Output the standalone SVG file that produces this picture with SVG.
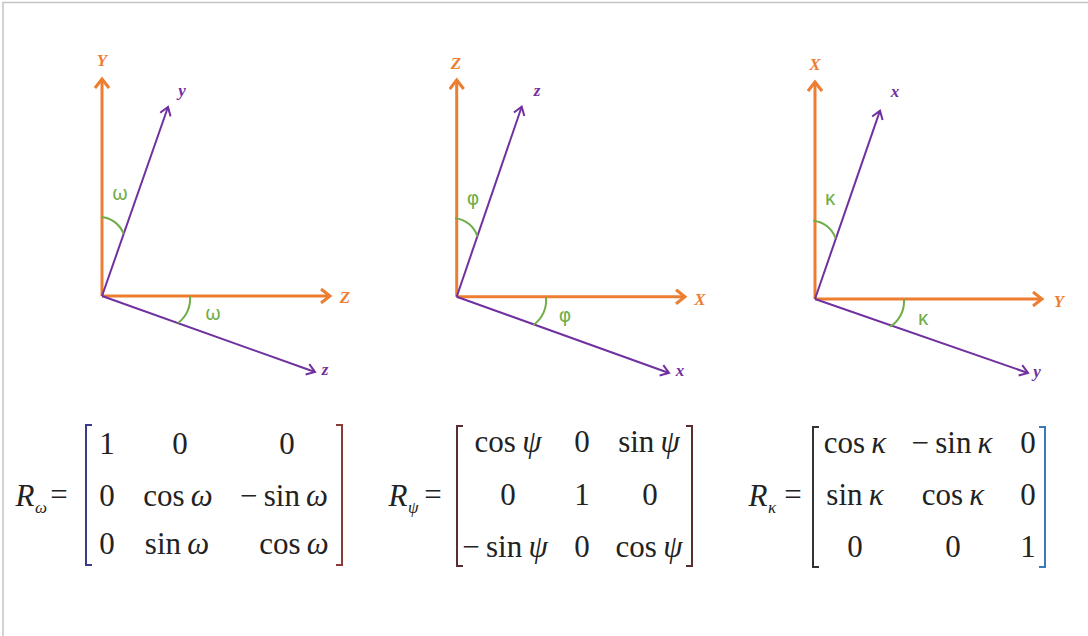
<svg xmlns="http://www.w3.org/2000/svg" width="1088" height="636" viewBox="0 0 1088 636">
<defs>
<style>
.ax{stroke:#ED7D31;stroke-width:3;fill:none;marker-end:url(#ao)}
.rot{stroke:#7030A0;stroke-width:2;fill:none;marker-end:url(#ap)}
.arc{stroke:#70AD47;stroke-width:2;fill:none}
.AL{font-family:"Liberation Serif",serif;font-style:italic;font-weight:bold;font-size:17px;fill:#ED7D31;text-anchor:middle}
.rl{font-family:"Liberation Serif",serif;font-style:italic;font-weight:bold;font-size:17px;fill:#7030A0;text-anchor:middle}
.gl{font-family:"Noto Sans",sans-serif;font-size:20px;fill:#70AD47;text-anchor:middle}
.gp{font-family:"DejaVu Sans",sans-serif;font-size:19px;fill:#70AD47;text-anchor:middle}
.m{font-family:"Liberation Serif",serif;font-size:31px;fill:#222;text-anchor:middle}
.m tspan.i{font-style:italic}
.sub{font-family:"Liberation Serif",serif;font-style:italic;font-size:17px;fill:#222}
.br{fill:none;stroke-width:2}
</style>
<marker id="ao" markerUnits="userSpaceOnUse" markerWidth="16" markerHeight="16" viewBox="0 0 16 16" refX="13" refY="8" orient="auto">
<path d="M4,1 L13,8 L4,15" fill="none" stroke="#ED7D31" stroke-width="3"/>
</marker>
<marker id="ap" markerUnits="userSpaceOnUse" markerWidth="14" markerHeight="14" viewBox="0 0 14 14" refX="12" refY="7" orient="auto">
<path d="M4,1.5 L12,7 L4,12.5" fill="none" stroke="#7030A0" stroke-width="2"/>
</marker>
</defs>
<rect width="1088" height="636" fill="#fff"/>
<path d="M3,636 L3,2.5 L1088,2.5" fill="none" stroke="#c4c4c4" stroke-width="1.5"/>

<g id="connectors">
<line class="ax" x1="102" y1="296" x2="102" y2="79"/>
<line class="ax" x1="102" y1="296" x2="330" y2="296"/>
<line class="rot" x1="102" y1="296" x2="168" y2="107"/>
<line class="rot" x1="102" y1="296" x2="315" y2="372"/>
<line class="ax" x1="456.7" y1="296.7" x2="456.7" y2="80"/>
<line class="ax" x1="456.7" y1="296.7" x2="685" y2="296.7"/>
<line class="rot" x1="456.7" y1="296.7" x2="521.7" y2="106.7"/>
<line class="rot" x1="456.7" y1="296.7" x2="669" y2="373"/>
<line class="ax" x1="815" y1="299" x2="815" y2="82"/>
<line class="ax" x1="815" y1="299" x2="1042" y2="299"/>
<line class="rot" x1="815" y1="299" x2="880" y2="110.7"/>
<line class="rot" x1="815" y1="299" x2="1028" y2="373"/>
<path class="arc" d="M101,217 A26,26 0 0 1 123.6,234"/>
<path class="arc" d="M190,296 A30,30 0 0 1 178,323"/>
<path class="arc" d="M455,218.3 A26,26 0 0 1 477.5,236.7"/>
<path class="arc" d="M546,297.3 A30,30 0 0 1 533.3,325"/>
<path class="arc" d="M813.3,220.7 A26,26 0 0 1 835.6,238.3"/>
<path class="arc" d="M904,299.3 A30,30 0 0 1 890,326.7"/>
</g>

<g id="frame-omega">
<text class="AL" x="102" y="66">Y</text>
<text class="AL" x="345" y="303">Z</text>
<text class="rl" x="182" y="96">y</text>
<text class="rl" x="325" y="375">z</text>
<text class="gl" x="120" y="200">ω</text>
<text class="gl" x="213" y="320">ω</text>
</g>
<g id="frame-phi">
<text class="AL" x="456" y="69">Z</text>
<text class="AL" x="700" y="305">X</text>
<text class="rl" x="537" y="96">z</text>
<text class="rl" x="680" y="376">x</text>
<text class="gp" x="473" y="205">φ</text>
<text class="gp" x="565" y="322">φ</text>
</g>
<g id="frame-kappa">
<text class="AL" x="815" y="70">X</text>
<text class="AL" x="1059" y="307">Y</text>
<text class="rl" x="895" y="97">x</text>
<text class="rl" x="1037" y="377">y</text>
<text class="gl" x="830" y="205">κ</text>
<text class="gl" x="923" y="325">κ</text>
</g>

<g id="matrix-omega">
<text class="m" x="25" y="506" font-style="italic">R</text>
<text class="sub" x="35" y="513">ω</text>
<text class="m" x="59" y="505">=</text>
<path class="br" stroke="#3a3a8a" d="M92,425 L86,425 L86,565 L92,565"/>
<path class="br" stroke="#8b3a3a" d="M336,425 L342,425 L342,565 L336,565"/>
<text class="m" x="107" y="454">1</text>
<text class="m" x="180" y="454">0</text>
<text class="m" x="287" y="454">0</text>
<text class="m" x="107" y="506">0</text>
<text class="m" x="178" y="506">cos&#8201;<tspan class="i">ω</tspan></text>
<text class="m" x="284" y="506">−&#8201;sin&#8201;<tspan class="i">ω</tspan></text>
<text class="m" x="107" y="554">0</text>
<text class="m" x="177" y="554">sin&#8201;<tspan class="i">ω</tspan></text>
<text class="m" x="294" y="554">cos&#8201;<tspan class="i">ω</tspan></text>
</g>

<g id="matrix-psi">
<text class="m" x="398" y="506" font-style="italic">R</text>
<text class="sub" x="408" y="513">ψ</text>
<text class="m" x="433" y="505">=</text>
<path class="br" stroke="#5a2e2e" d="M463,426 L457,426 L457,566 L463,566"/>
<path class="br" stroke="#5a2e2e" d="M686,426 L692,426 L692,566 L686,566"/>
<text class="m" x="508" y="452">cos&#8201;<tspan class="i">ψ</tspan></text>
<text class="m" x="582" y="452">0</text>
<text class="m" x="649" y="452">sin&#8201;<tspan class="i">ψ</tspan></text>
<text class="m" x="508" y="505">0</text>
<text class="m" x="582" y="505">1</text>
<text class="m" x="650" y="505">0</text>
<text class="m" x="505" y="557">−&#8201;sin&#8201;<tspan class="i">ψ</tspan></text>
<text class="m" x="582" y="557">0</text>
<text class="m" x="649" y="557">cos&#8201;<tspan class="i">ψ</tspan></text>
</g>

<g id="matrix-kappa">
<text class="m" x="758" y="506" font-style="italic">R</text>
<text class="sub" x="768" y="513">κ</text>
<text class="m" x="793" y="505">=</text>
<path class="br" stroke="#333" d="M819,427 L813,427 L813,567 L819,567"/>
<path class="br" stroke="#3a7ab8" d="M1039,427 L1045,427 L1045,567 L1039,567"/>
<text class="m" x="855" y="453">cos&#8201;<tspan class="i">κ</tspan></text>
<text class="m" x="952" y="453">−&#8201;sin&#8201;<tspan class="i">κ</tspan></text>
<text class="m" x="1028" y="453">0</text>
<text class="m" x="855" y="505">sin&#8201;<tspan class="i">κ</tspan></text>
<text class="m" x="953" y="505">cos&#8201;<tspan class="i">κ</tspan></text>
<text class="m" x="1028" y="505">0</text>
<text class="m" x="855" y="557">0</text>
<text class="m" x="953" y="557">0</text>
<text class="m" x="1028" y="557">1</text>
</g>
</svg>
